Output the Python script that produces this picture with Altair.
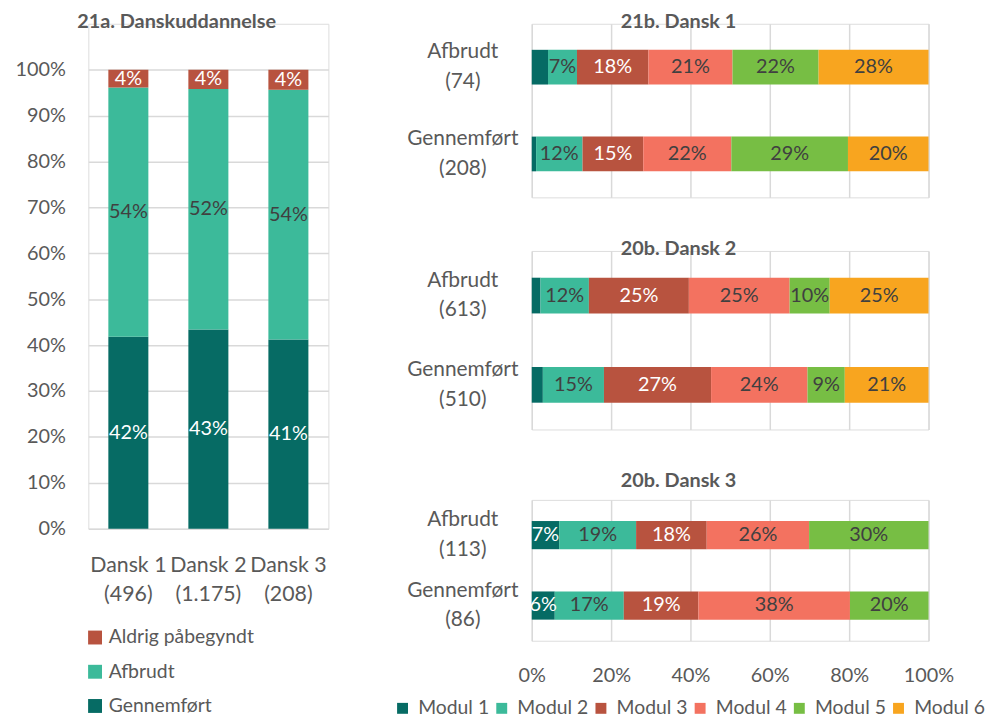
import altair as alt
import pandas as pd

FONT = "Lato"
GRAY = "#595959"
DARK = "#404040"
GRID = "#D9D9D9"

# ---------------- Left chart data ----------------
left_title = "21a. Danskuddannelse"
left_cats = ["Dansk 1|(496)", "Dansk 2|(1.175)", "Dansk 3|(208)"]
left_series = ["Gennemført", "Afbrudt", "Aldrig påbegyndt"]
left_gennemfort = [41.8, 43.4, 41.2]
left_afbrudt = [54.3, 52.4, 54.4]
left_aldrig = [3.9, 4.2, 4.4]
left_colors = ["#066B64", "#3CBA9A", "#B8533F"]
left_text_colors = ["white", DARK, "white"]
left_legend_order = ["Aldrig påbegyndt", "Afbrudt", "Gennemført"]

# ---------------- Right chart data ----------------
modules = ["Modul 1", "Modul 2", "Modul 3", "Modul 4", "Modul 5", "Modul 6"]
module_colors = ["#066B64", "#3CBA9A", "#B8533F", "#F37260", "#77BE44", "#F8A51F"]
module_text_colors = ["white", DARK, "white", DARK, DARK, DARK]

p1_title = "21b. Dansk 1"
p1_cats = ["Afbrudt|(74)", "Gennemført|(208)"]
p1_afbrudt = [4.1, 7.3, 18.0, 21.2, 21.7, 27.7]
p1_gennemfort = [1.1, 11.7, 15.3, 22.2, 29.4, 20.3]

p2_title = "20b. Dansk 2"
p2_cats = ["Afbrudt|(613)", "Gennemført|(510)"]
p2_afbrudt = [2.2, 12.2, 25.2, 25.4, 10.1, 24.9]
p2_gennemfort = [2.8, 15.4, 27.0, 24.3, 9.4, 21.1]

p3_title = "20b. Dansk 3"
p3_cats = ["Afbrudt|(113)", "Gennemført|(86)"]
p3_afbrudt = [6.9, 19.4, 17.8, 25.8, 30.1, 0.0]
p3_gennemfort = [5.8, 17.4, 18.8, 38.2, 19.8, 0.0]

x_ticks = [0, 20, 40, 60, 80, 100]
y_ticks = [0, 10, 20, 30, 40, 50, 60, 70, 80, 90, 100]

# ---------------- Left chart ----------------
rows = []
for i, c in enumerate(left_cats):
    for j, (s, vals) in enumerate(zip(left_series, [left_gennemfort, left_afbrudt, left_aldrig])):
        rows.append({"cat": c, "series": s, "value": vals[i], "order": j,
                     "tcolor": left_text_colors[j]})
df_left = pd.DataFrame(rows)

lbase = alt.Chart(df_left).transform_stack(
    stack="value", groupby=["cat"], as_=["v0", "v1"],
    sort=[alt.SortField("order", order="ascending")]
).transform_calculate(
    mid="(datum.v0 + datum.v1) / 2",
    label="round(datum.value) + '%'"
)

lx = alt.X("cat:N", sort=left_cats,
           scale=alt.Scale(paddingInner=0.5, paddingOuter=0.25),
           axis=alt.Axis(labelExpr="split(datum.label, '|')", labelAngle=0,
                         labelFontSize=21.5, labelLineHeight=29, labelColor=GRAY,
                         labelFont=FONT, labelPadding=26, ticks=False, tickSize=0,
                         domain=False, title=None, grid=False))

lbars = lbase.mark_bar().encode(
    x=lx,
    y=alt.Y("v0:Q", scale=alt.Scale(domain=[0, 110], nice=False),
            axis=alt.Axis(values=y_ticks, labelExpr="datum.value + '%'",
                          grid=True, gridColor=GRID, gridWidth=1.5,
                          domain=False, ticks=False, tickSize=0,
                          labelPadding=23, labelFontSize=20, labelColor=GRAY,
                          labelFont=FONT, title=None, minExtent=75, maxExtent=75)),
    y2="v1:Q",
    color=alt.Color("series:N",
                    scale=alt.Scale(domain=left_legend_order,
                                    range=[left_colors[2], left_colors[1], left_colors[0]]),
                    legend=alt.Legend(orient="none", legendX=-3, legendY=609,
                                      direction="vertical", title=None,
                                      symbolType="square", symbolSize=196,
                                      symbolStrokeWidth=0, labelFontSize=19.5,
                                      labelFont=FONT, labelColor=GRAY,
                                      labelOffset=4, rowPadding=13.5)),
)

ltext = lbase.mark_text(font=FONT, fontSize=20, baseline="middle").encode(
    x=alt.X("cat:N", sort=left_cats),
    y=alt.Y("mid:Q"),
    text="label:N",
    color=alt.Color("tcolor:N", scale=None),
)

left = alt.layer(lbars, ltext).properties(
    width=242, height=509,
    title=alt.TitleParams(left_title, font=FONT, fontSize=20, fontWeight="bold",
                          color=GRAY, anchor="middle", dx=-32, dy=8, offset=0),
)


# ---------------- Right panels ----------------
def make_panel(title, cats, afbrudt, gennemfort, height, last, title_offset, title_dy):
    rows = []
    for c, vals in zip(cats, [afbrudt, gennemfort]):
        for j, m in enumerate(modules):
            rows.append({"cat": c, "module": m, "value": vals[j], "order": j,
                         "tcolor": module_text_colors[j]})
    df = pd.DataFrame(rows)
    base = alt.Chart(df).transform_stack(
        stack="value", groupby=["cat"], as_=["v0", "v1"],
        sort=[alt.SortField("order", order="ascending")]
    ).transform_calculate(
        mid="(datum.v0 + datum.v1) / 2",
        label="round(datum.value) + '%'"
    )
    if last:
        xaxis = alt.Axis(values=x_ticks, labelExpr="datum.value + '%'",
                         grid=True, gridColor=GRID, gridWidth=1.5,
                         domain=False, ticks=False, tickSize=0, labelFlush=False,
                         labelPadding=25, labelFontSize=20, labelColor=GRAY,
                         labelFont=FONT, title=None)
        legend = alt.Legend(orient="none", legendX=-140, legendY=200,
                            direction="horizontal", title=None,
                            symbolType="square", symbolSize=121,
                            symbolStrokeWidth=0, labelFontSize=19.5,
                            labelFont=FONT, labelColor=GRAY, labelOffset=6,
                            columnPadding=2)
    else:
        xaxis = alt.Axis(values=x_ticks, grid=True, gridColor=GRID, gridWidth=1.5,
                         domain=False, ticks=False, tickSize=0, labels=False,
                         title=None)
        legend = None
    y = alt.Y("cat:N", sort=cats,
              scale=alt.Scale(paddingInner=0.6, paddingOuter=0.3),
              axis=alt.Axis(labelExpr="split(datum.label, '|')",
                            labelAlign="center", labelBaseline="middle",
                            labelOffset=-15,
                            labelPadding=70, labelFontSize=21, labelLineHeight=30,
                            labelColor=GRAY, labelFont=FONT, ticks=False,
                            tickSize=0, domain=False, title=None,
                            minExtent=140, maxExtent=140))
    bars = base.transform_filter("datum.value > 0").mark_bar().encode(
        x=alt.X("v0:Q", scale=alt.Scale(domain=[0, 100]), axis=xaxis),
        x2="v1:Q",
        y=y,
        color=alt.Color("module:N",
                        scale=alt.Scale(domain=modules, range=module_colors),
                        legend=legend),
    )
    text = base.transform_filter("datum.value >= 5").mark_text(
        font=FONT, fontSize=20, baseline="middle").encode(
        x=alt.X("mid:Q"),
        y=alt.Y("cat:N", sort=cats),
        text="label:N",
        color=alt.Color("tcolor:N", scale=None),
    )
    return alt.layer(bars, text).properties(
        width=400, height=height,
        title=alt.TitleParams(title, font=FONT, fontSize=20, fontWeight="bold",
                              color=GRAY, anchor="middle", dx=-52, dy=title_dy,
                              offset=title_offset),
    )


p1 = make_panel(p1_title, p1_cats, p1_afbrudt, p1_gennemfort, 175, False, 0, 8)
p2 = make_panel(p2_title, p2_cats, p2_afbrudt, p2_gennemfort, 180, False, 0, 8)
p3 = make_panel(p3_title, p3_cats, p3_afbrudt, p3_gennemfort, 142, True, 9, 0)

right = alt.vconcat(p1, p2, p3, spacing=40).resolve_scale(color="independent")

chart = alt.hconcat(left, right, spacing=63).resolve_scale(
    color="independent"
).properties(
    padding={"left": 5, "top": 0, "right": 5, "bottom": 0}
).configure_view(stroke=None).configure(font=FONT)

chart.save("out.html", embed_options={"renderer": "svg", "actions": False})
